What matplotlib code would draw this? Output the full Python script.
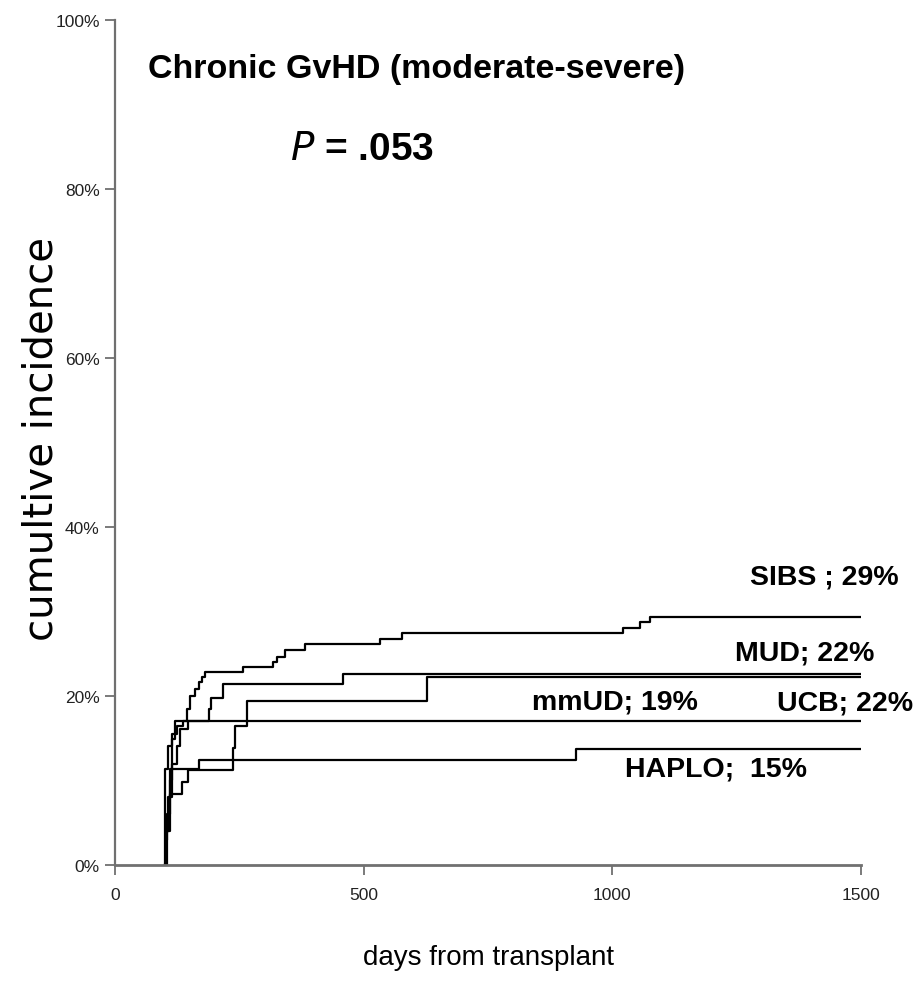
import matplotlib
matplotlib.use("Agg")
import matplotlib.pyplot as plt
from matplotlib.ticker import FuncFormatter

# cumulative incidence of chronic GvHD (percent)
sibs_days = [100, 101, 107, 114, 124, 137, 144, 151, 161, 168, 174, 180,
             258, 318, 326, 342, 382, 533, 578, 1022, 1056, 1076, 1500]
sibs_pct = [0, 11.4, 14.1, 15.5, 16.5, 17.1, 18.5, 20.0, 20.8, 21.6, 22.2, 22.8,
            23.4, 24.0, 24.6, 25.4, 26.1, 26.8, 27.5, 28.1, 28.7, 29.4, 29.4]

mud_days = [100, 103, 108, 115, 124, 131, 147, 188, 192, 218, 458, 1500]
mud_pct = [0, 4, 8, 12, 14.1, 16.1, 17.1, 18.5, 19.8, 21.4, 22.6, 22.6]

ucb_days = [100, 104, 111, 134, 147, 238, 241, 265, 627, 1500]
ucb_pct = [0, 4, 8.4, 9.8, 11.2, 13.9, 16.5, 19.4, 22.2, 22.2]

mmud_days = [100, 102, 105, 110, 114, 121, 1500]
mmud_pct = [0, 3, 6, 10, 14.9, 17.1, 17.1]

haplo_days = [100, 103, 107, 111, 168, 927, 1500]
haplo_pct = [0, 4, 8, 11.4, 12.4, 13.7, 13.7]

labels = ["SIBS ; 29%", "MUD; 22%", "mmUD; 19%", "UCB; 22%", "HAPLO;  15%"]
label_x = [1277, 1247, 838, 1331, 1026]
label_y = [34.2, 25.2, 19.3, 19.2, 11.4]

font = "Liberation Sans"

fig = plt.figure(figsize=(9.24, 9.87), dpi=100)
ax = fig.add_axes([0.1245, 0.1226, 0.8073, 0.8561])

for d, p in [(sibs_days, sibs_pct), (mud_days, mud_pct), (ucb_days, ucb_pct),
             (mmud_days, mmud_pct), (haplo_days, haplo_pct)]:
    ax.step(d, p, where="post", color="black", lw=1.6)

ax.set_xlim(0, 1500)
ax.set_ylim(0, 100)
ax.set_xticks([0, 500, 1000, 1500])
ax.set_yticks([0, 20, 40, 60, 80, 100])
ax.yaxis.set_major_formatter(FuncFormatter(lambda v, pos: f"{v:.0f}%"))

for s in ["top", "right"]:
    ax.spines[s].set_visible(False)
for s in ["left", "bottom"]:
    ax.spines[s].set_color("#707070")
ax.spines["bottom"].set_linewidth(2)
ax.spines["left"].set_linewidth(1.6)

ax.tick_params(axis="both", direction="out", length=7, width=1.3,
               color="#707070", labelsize=12.5)
ax.tick_params(axis="x", pad=9)
ax.tick_params(axis="y", pad=4)
for lab in ax.get_xticklabels() + ax.get_yticklabels():
    lab.set_family(font)
    lab.set_color("#222222")

ax.set_xlabel("days from transplant", fontsize=20, family=font, va="center")
ax.xaxis.set_label_coords(0.5, -0.109)
ax.set_ylabel("cumultive incidence", fontsize=29, family="DejaVu Sans", va="center")
ax.yaxis.set_label_coords(-0.098, 0.505)

ax.text(0.044, 0.943, "Chronic GvHD (moderate-severe)", transform=ax.transAxes,
        fontsize=24.5, fontweight="bold", family=font, ha="left", va="center")
ax.text(0.2346, 0.847, "$\\bf{\\it{P}}$ = .053", transform=ax.transAxes,
        fontsize=28, fontweight="bold", family=font, ha="left", va="center")

for t, x, y in zip(labels, label_x, label_y):
    ax.text(x, y, t, fontsize=20.5, fontweight="bold", family=font,
            ha="left", va="center")

fig.savefig("out.png", dpi=100)
